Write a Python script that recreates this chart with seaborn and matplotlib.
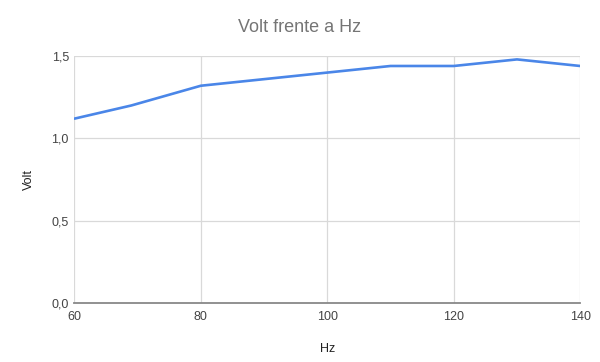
import matplotlib
matplotlib.use("Agg")
import matplotlib.pyplot as plt
import seaborn as sns
import pandas as pd
from matplotlib.ticker import FuncFormatter

hz = [60, 69, 80, 100, 110, 120, 130, 140]
volt = [1.12, 1.20, 1.32, 1.40, 1.44, 1.44, 1.48, 1.44]
x_ticks = [60, 80, 100, 120, 140]
y_ticks = [0.0, 0.5, 1.0, 1.5]

sns.set_theme(style="white")
plt.rcParams['font.family'] = ['Liberation Sans', 'DejaVu Sans']

df = pd.DataFrame({"Hz": hz, "Volt": volt})
fig = plt.figure(figsize=(6, 3.62), dpi=100)
ax = fig.add_axes([0.124, 0.163, 0.843, 0.682])
sns.lineplot(data=df, x="Hz", y="Volt", ax=ax, color="#4a86e8", linewidth=1.9, zorder=3)

ax.set_xlim(60, 140)
ax.set_ylim(0, 1.5)
ax.set_xticks(x_ticks)
ax.set_yticks(y_ticks)
ax.yaxis.set_major_formatter(FuncFormatter(lambda v, p: f"{v:.1f}".replace(".", ",")))
ax.grid(True, color="#d9d9d9", linewidth=0.9)
for s in ["top", "right", "left"]:
    ax.spines[s].set_visible(False)
ax.spines["bottom"].set_color("#888888")
ax.spines["bottom"].set_linewidth(1.3)
ax.tick_params(axis="both", length=0, labelsize=9, colors="#444444", pad=4)
ax.tick_params(axis="x", pad=6)
ax.set_xlabel("Hz", fontsize=9, color="#222222", labelpad=14)
ax.set_ylabel("Volt", fontsize=9, color="#222222", labelpad=12)
fig.text(0.5, 0.925, "Volt frente a Hz", ha="center", va="center", fontsize=13, color="#757575")
fig.savefig("out.png", dpi=100, facecolor="white")
